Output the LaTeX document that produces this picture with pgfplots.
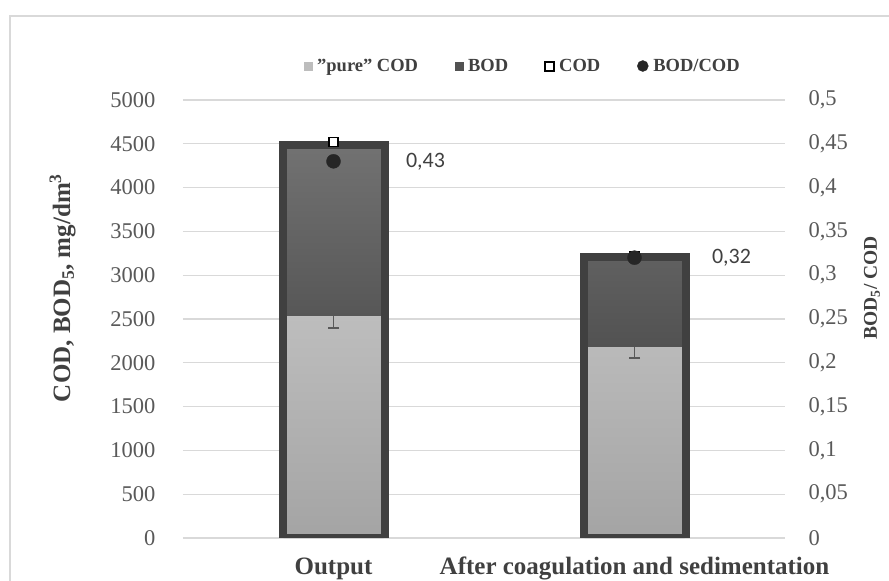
\documentclass[border=0pt]{standalone}
\usepackage{pgfplots}
\pgfplotsset{compat=1.18}
\usepackage{fontspec}
\setmainfont{Liberation Serif}
\newfontfamily\calfont{Carlito}
\definecolor{lgA}{HTML}{BDBDBD}
\definecolor{lgB}{HTML}{A4A4A4}
\definecolor{dgA}{HTML}{727272}
\definecolor{dgB}{HTML}{525252}
\definecolor{outl}{HTML}{404040}
\definecolor{gridc}{HTML}{D9D9D9}
\definecolor{tickc}{HTML}{595959}
\definecolor{labc}{HTML}{404040}
\definecolor{dotc}{HTML}{262626}
\begin{document}
\begin{tikzpicture}[x=1pt,y=1pt]
\useasboundingbox (0,0) rectangle (889,581);
\draw[line width=2pt, color=gridc] (10,0) -- (10,565) -- (889,565);
\pgfplotsset{
  base/.style={
    scale only axis, width=602pt, height=438pt,
    at={(183pt,43pt)}, anchor=south west,
    xmin=-0.5, xmax=1.5, ymin=0, ymax=5000,
    /pgf/number format/assume math mode=true,
  }
}
% axis 1: grid, ticks, stacked bars
\begin{axis}[base,
  ybar stacked, bar width=100pt,
  axis line style={draw=none},
  major tick style={draw=none},
  ytick={0,500,...,5000},
  ymajorgrids, grid style={color=gridc, line width=1.3pt},
  yticklabel style={font=\fontsize{22.5}{22.5}\selectfont, color=tickc, xshift=-24pt, anchor=east},
  /pgf/number format/1000 sep={},
  xtick={0,1},
  xticklabels={Output, After coagulation and sedimentation},
  xticklabel style={font=\bfseries\fontsize{25}{25}\selectfont, color=labc, anchor=base, yshift=-36pt},
  ylabel={COD, BOD\textsubscript{5}, mg/dm\textsuperscript{3}},
  ylabel style={font=\bfseries\fontsize{25}{25}\selectfont, color=labc, at={(axis description cs:-0.2,0.571)}, anchor=center},
]
\addplot[draw=none, top color=lgA, bottom color=lgB]
  coordinates {(0,2530) (1,2180)};
\addplot[draw=none, top color=dgA, bottom color=dgB]
  coordinates {(0,1970) (1,1030)};
\end{axis}
% axis 2: error bars, COD markers and outline bars
\begin{axis}[base, hide axis]
\addplot[draw=none,
  error bars/.cd, y dir=minus, y explicit, error mark=|,
  error bar style={color=tickc, line width=1.6pt},
  error mark options={color=tickc, line width=1.6pt, mark size=5.5pt}]
  coordinates {(0,2530) +- (0,130) (1,2180) +- (0,125)};
\addplot[only marks, mark=square*, mark size=4.5pt,
  mark options={fill=white, draw=black, line width=1.6pt}]
  coordinates {(0,4520) (1,3215)};
\addplot[ybar, bar shift=0pt, bar width=102pt, draw=outl, line width=8pt, fill=none]
  coordinates {(0,4490) (1,3210)};
\end{axis}
% axis 3: right axis, ratio, legend
\begin{axis}[base, ymax=0.5,
  axis x line=none,
  axis y line*=right,
  axis line style={draw=none},
  major tick style={draw=none},
  ytick={0,0.05,...,0.5},
  yticklabel style={font=\fontsize{22.5}{22.5}\selectfont, color=tickc, xshift=20pt, anchor=west},
  /pgf/number format/.cd, use comma, fixed, precision=2,
  /pgfplots/.cd,
  ylabel={BOD\textsubscript{5}/ COD},
  ylabel style={font=\bfseries\fontsize{19.5}{19.5}\selectfont, color=labc, at={(axis description cs:1.1445,0.571)}, anchor=center, rotate=0},
  legend columns=4,
  legend style={draw=none, fill=none, inner sep=0pt,
    at={(axis description cs:0.201,1.0776)}, anchor=west,
    font=\bfseries\fontsize{18.5}{18.5}\selectfont, text=labc,
    /tikz/every odd column/.append style={column sep=3pt},
    /tikz/every even column/.append style={column sep=35pt}},
]
\addlegendimage{only marks, mark=square*, mark size=4pt, mark options={fill=lgA, draw=lgA}}
\addlegendimage{only marks, mark=square*, mark size=4pt, mark options={fill=dgB, draw=dgB}}
\addlegendimage{only marks, mark=square*, mark size=4.5pt, mark options={fill=white, draw=black, line width=2pt}}
\addlegendimage{only marks, mark=*, mark size=5.5pt, mark options={fill=dotc, draw=dotc}}
\legend{\symbol{34}pure\symbol{34} COD, BOD, COD, BOD/COD}
\addplot[only marks, mark=*, mark size=7pt, color=dotc, forget plot,
  nodes near coords, point meta=explicit symbolic,
  every node near coord/.append style={font=\calfont\fontsize{22}{22}\selectfont, color=labc, anchor=west, xshift=69pt}]
  coordinates {(0,0.43) [0,43]};
\addplot[only marks, mark=*, mark size=7pt, color=dotc, forget plot,
  nodes near coords, point meta=explicit symbolic,
  every node near coord/.append style={font=\calfont\fontsize{22}{22}\selectfont, color=labc, anchor=west, xshift=74pt}]
  coordinates {(1,0.32) [0,32]};
\end{axis}
\end{tikzpicture}
\end{document}
